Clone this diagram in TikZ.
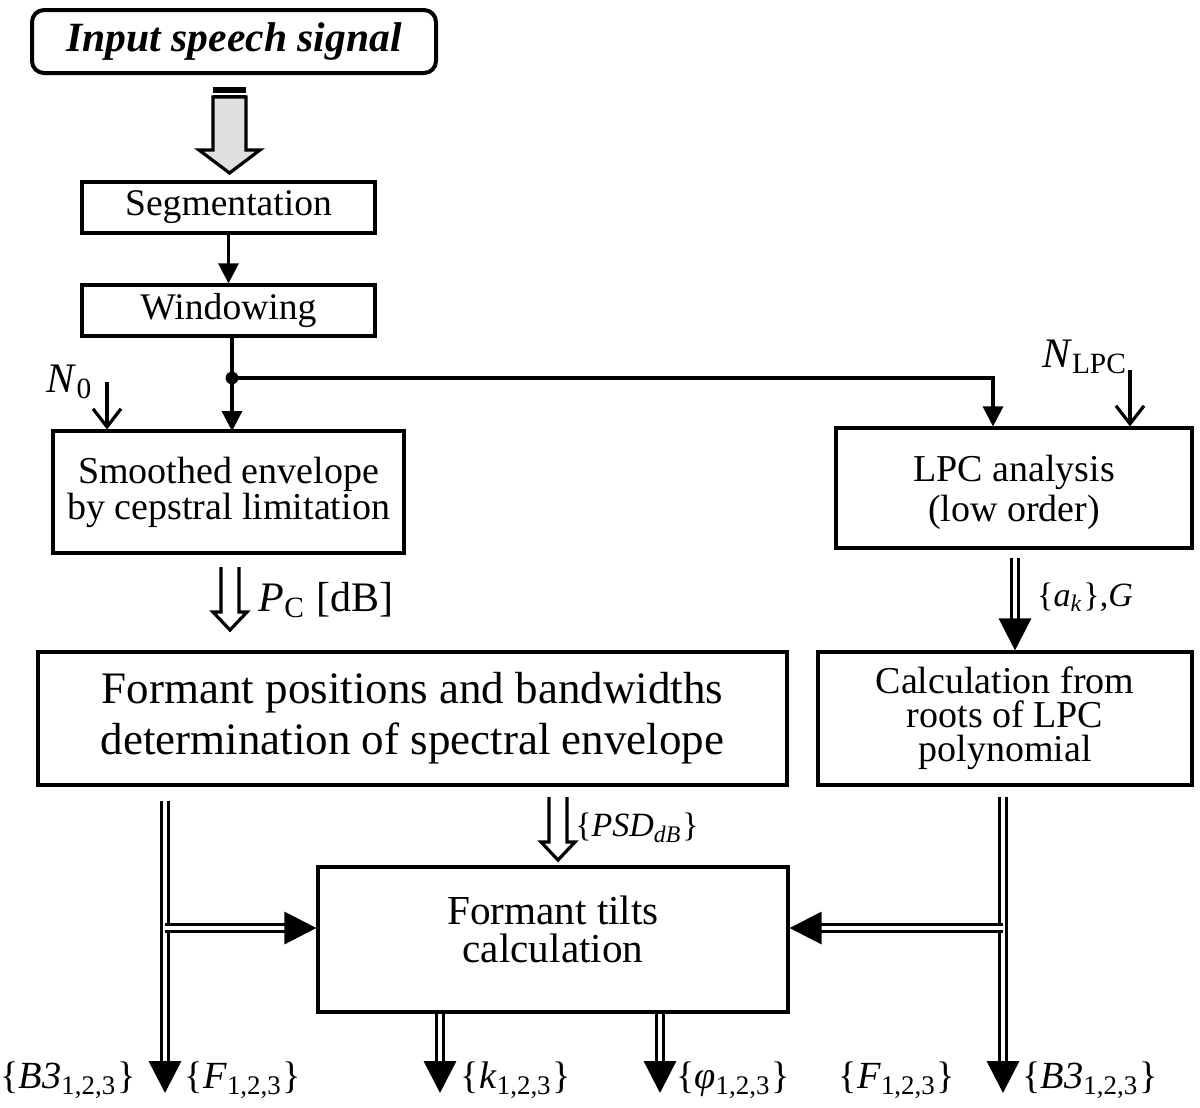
\documentclass[tikz,border=0pt]{standalone}
\usepackage{fontspec}
\setmainfont{Liberation Serif}
\usetikzlibrary{arrows.meta}
\usetikzlibrary{calc}

\tikzset{blockarr/.pic={
  \fill[white] (-9,0) rectangle (9,45);
  \draw[line width=0.8pt,fill=white] (-9,0) -- (-9,45) -- (-17,45) -- (0,63) -- (17,45) -- (9,45) -- (9,0);
}}

\begin{document}
\begin{tikzpicture}[x=0.25pt,y=-0.25pt,
  box/.style={draw,line width=0.8pt,align=center,inner sep=0pt},
  arr/.style={line width=0.8pt,-{Triangle[length=5pt,width=5pt]}},
  parm/.style={line width=0.8pt,-{Straight Barb[length=4.5pt,width=7pt]}},
  dbl/.style={double,double distance=0.8pt,line width=0.85pt,-{Triangle[length=8pt,width=8pt]}},
  lbl/.style={inner sep=0pt,font=\fontsize{10.5}{12}\selectfont},
  outlbl/.style={inner sep=0pt,font=\fontsize{9.6}{12}\selectfont}]
\useasboundingbox (0,0) rectangle (1200,1107);

% input
\node[box,rounded corners=3pt,line width=1pt,minimum width=101pt,minimum height=15.75pt,
  font=\fontsize{10.4}{12}\selectfont\bfseries\itshape] (inp) at (234,41.5) {Input speech signal};

% grey input arrow
\draw[line width=0.8pt,fill=gray!25] (213,97) -- (213,150) -- (199,150) -- (229.5,173) -- (260,150) -- (246,150) -- (246,97) -- cycle;
\fill (213,87) rectangle (246,93);
\fill (213,94.5) rectangle (246,97);

% boxes
\node[box,minimum width=73.25pt,minimum height=12.75pt,font=\fontsize{9.4}{10}\selectfont] (seg) at (228.5,207.5) {Segmentation};
\node[box,minimum width=73.25pt,minimum height=12.75pt,font=\fontsize{9.4}{10}\selectfont] (win) at (228.5,310.5) {Windowing};
\node[box,minimum width=87.75pt,minimum height=30.5pt,font=\fontsize{9.5}{9}\selectfont] (smooth) at (228.5,492) {Smoothed envelope\\by cepstral limitation};
\node[box,minimum width=89pt,minimum height=30pt,text depth=-3.7pt,font=\fontsize{9.5}{10}\selectfont] (lpc) at (1014,488) {LPC analysis\\(low order)};
\node[box,minimum width=187.25pt,minimum height=33.25pt,font=\fontsize{11.25}{12.75}\selectfont] (fpos) at (412.5,718.5) {Formant positions and bandwidths\\determination of spectral envelope};
\node[box,minimum width=93.5pt,minimum height=33.25pt,font=\fontsize{9.5}{8.5}\selectfont] (calc) at (1005,718.5) {Calculation from\\roots of LPC\\polynomial};
\node[box,minimum width=117.5pt,minimum height=36.25pt,text depth=5pt,font=\fontsize{10.3}{9.5}\selectfont] (tilt) at (553,939.5) {Formant tilts\\calculation};

% single arrows
\draw[arr] (seg.south) -- (win.north);
\coordinate (split) at (232,378);
\draw[line width=0.8pt] (232,336) -- (split);
\fill (split) circle (1.6pt);
\draw[arr] (split) -- (232,431);
\draw[arr] (split) -| ($(lpc.north)+(-21,0)$);

% parameters
\node[lbl] (n0) at (70,382) {\textit{N}\textsubscript{0}};
\coordinate (n0in) at (107,382);
\draw[parm] (n0in) -- (n0in |- smooth.north);
\node[lbl] (nlpc) at (1085,357) {\textit{N}\textsubscript{LPC}};
\coordinate (nlpcin) at (1130,370);
\draw[parm] (nlpcin) -- (nlpcin |- lpc.north);

% hollow arrows
\pic at (230,567) {blockarr};
\node[lbl] (pc) at (326,600) {\textit{P}\textsubscript{C} [dB]};
\pic at (558,797) {blockarr};
\node[lbl,font=\fontsize{8.5}{10}\selectfont] (psd) at (637,828) {\{\textit{PSD}\textsubscript{\textit{dB}}\}};

% LPC coefficients
\coordinate (akin) at (1015,558);
\draw[dbl] (akin) -- (akin |- calc.north);
\node[lbl,font=\fontsize{8.5}{10}\selectfont] (ak) at (1085,597) {\{\textit{a}\textsubscript{\textit{k}}\},\textit{G}};

% left and right outputs
\coordinate (ltop) at (165,801);
\coordinate (lbot) at (165,1093);
\coordinate (ljoin) at (165,928);
\draw[dbl] (ltop) -- (lbot);
\draw[dbl] (ljoin) -- (ljoin -| tilt.west);
\coordinate (rtop) at (1003,797);
\coordinate (rbot) at (1003,1093);
\coordinate (rjoin) at (1003,928);
\draw[dbl] (rtop) -- (rbot);
\draw[dbl] (rjoin) -- (rjoin -| tilt.east);

% tilt outputs
\coordinate (kout) at (440,1093);
\coordinate (phiout) at (660,1093);
\draw[dbl] (kout |- tilt.south) -- (kout);
\draw[dbl] (phiout |- tilt.south) -- (phiout);

% output labels
\node[outlbl] (b3l) at (68,1080) {\{\textit{B3}\textsubscript{1,2,3}\}};
\node[outlbl] (fl) at (243,1080) {\{\textit{F}\textsubscript{1,2,3}\}};
\node[outlbl] (kl) at (516,1080) {\{\textit{k}\textsubscript{1,2,3}\}};
\node[outlbl] (phil) at (733,1080) {\{\textit{φ}\textsubscript{1,2,3}\}};
\node[outlbl] (fr) at (897,1080) {\{\textit{F}\textsubscript{1,2,3}\}};
\node[outlbl] (b3r) at (1090,1080) {\{\textit{B3}\textsubscript{1,2,3}\}};

\end{tikzpicture}
\end{document}
